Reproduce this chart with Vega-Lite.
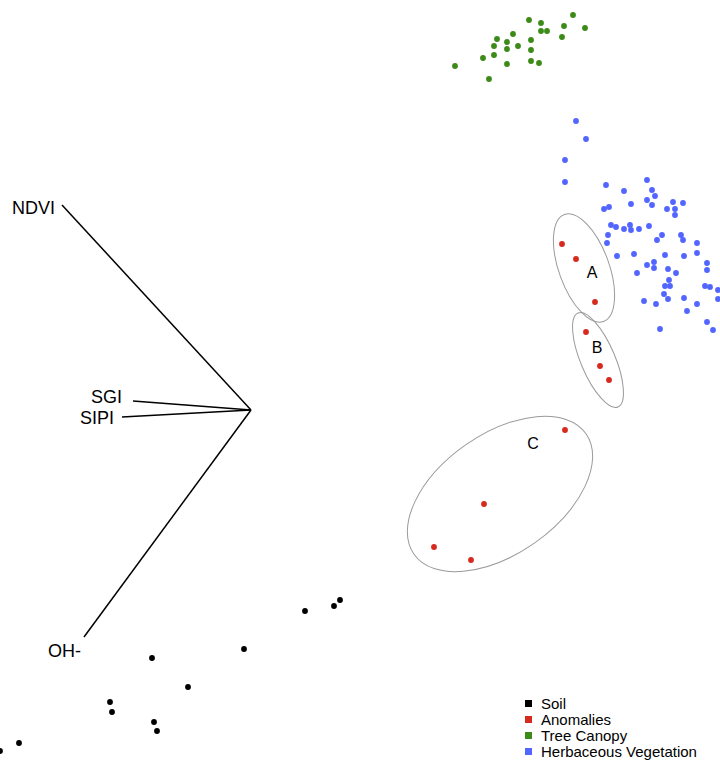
{
  "$schema": "https://vega.github.io/schema/vega-lite/v6.json",
  "width": 720,
  "height": 761,
  "padding": 0,
  "autosize": {"type": "fit", "contains": "padding"},
  "background": "white",
  "config": {"view": {"stroke": null}, "font": "Liberation Sans"},
  "datasets": {
    "points": [
      {"x": 455, "y": 66, "group": "Tree Canopy"},
      {"x": 489, "y": 79, "group": "Tree Canopy"},
      {"x": 483, "y": 58, "group": "Tree Canopy"},
      {"x": 494, "y": 55, "group": "Tree Canopy"},
      {"x": 494, "y": 46, "group": "Tree Canopy"},
      {"x": 497, "y": 39, "group": "Tree Canopy"},
      {"x": 507, "y": 42, "group": "Tree Canopy"},
      {"x": 507, "y": 49, "group": "Tree Canopy"},
      {"x": 507, "y": 64, "group": "Tree Canopy"},
      {"x": 513, "y": 34, "group": "Tree Canopy"},
      {"x": 518, "y": 46, "group": "Tree Canopy"},
      {"x": 529, "y": 20, "group": "Tree Canopy"},
      {"x": 531, "y": 40, "group": "Tree Canopy"},
      {"x": 531, "y": 50, "group": "Tree Canopy"},
      {"x": 531, "y": 61, "group": "Tree Canopy"},
      {"x": 539, "y": 63, "group": "Tree Canopy"},
      {"x": 541, "y": 23, "group": "Tree Canopy"},
      {"x": 541, "y": 31, "group": "Tree Canopy"},
      {"x": 547, "y": 31, "group": "Tree Canopy"},
      {"x": 562, "y": 37, "group": "Tree Canopy"},
      {"x": 564, "y": 26, "group": "Tree Canopy"},
      {"x": 573, "y": 15, "group": "Tree Canopy"},
      {"x": 585, "y": 28, "group": "Tree Canopy"},
      {"x": 576, "y": 121, "group": "Herbaceous Vegetation"},
      {"x": 586, "y": 139, "group": "Herbaceous Vegetation"},
      {"x": 565, "y": 160, "group": "Herbaceous Vegetation"},
      {"x": 565, "y": 182, "group": "Herbaceous Vegetation"},
      {"x": 606, "y": 185, "group": "Herbaceous Vegetation"},
      {"x": 647, "y": 180, "group": "Herbaceous Vegetation"},
      {"x": 624, "y": 191, "group": "Herbaceous Vegetation"},
      {"x": 652, "y": 190, "group": "Herbaceous Vegetation"},
      {"x": 655, "y": 196, "group": "Herbaceous Vegetation"},
      {"x": 647, "y": 200, "group": "Herbaceous Vegetation"},
      {"x": 652, "y": 205, "group": "Herbaceous Vegetation"},
      {"x": 631, "y": 204, "group": "Herbaceous Vegetation"},
      {"x": 604, "y": 209, "group": "Herbaceous Vegetation"},
      {"x": 609, "y": 207, "group": "Herbaceous Vegetation"},
      {"x": 673, "y": 202, "group": "Herbaceous Vegetation"},
      {"x": 683, "y": 203, "group": "Herbaceous Vegetation"},
      {"x": 667, "y": 209, "group": "Herbaceous Vegetation"},
      {"x": 675, "y": 209, "group": "Herbaceous Vegetation"},
      {"x": 675, "y": 215, "group": "Herbaceous Vegetation"},
      {"x": 611, "y": 225, "group": "Herbaceous Vegetation"},
      {"x": 616, "y": 227, "group": "Herbaceous Vegetation"},
      {"x": 624, "y": 229, "group": "Herbaceous Vegetation"},
      {"x": 630, "y": 225, "group": "Herbaceous Vegetation"},
      {"x": 631, "y": 230, "group": "Herbaceous Vegetation"},
      {"x": 639, "y": 229, "group": "Herbaceous Vegetation"},
      {"x": 649, "y": 226, "group": "Herbaceous Vegetation"},
      {"x": 608, "y": 235, "group": "Herbaceous Vegetation"},
      {"x": 607, "y": 243, "group": "Herbaceous Vegetation"},
      {"x": 662, "y": 235, "group": "Herbaceous Vegetation"},
      {"x": 657, "y": 240, "group": "Herbaceous Vegetation"},
      {"x": 681, "y": 235, "group": "Herbaceous Vegetation"},
      {"x": 683, "y": 240, "group": "Herbaceous Vegetation"},
      {"x": 697, "y": 243, "group": "Herbaceous Vegetation"},
      {"x": 697, "y": 253, "group": "Herbaceous Vegetation"},
      {"x": 617, "y": 256, "group": "Herbaceous Vegetation"},
      {"x": 634, "y": 254, "group": "Herbaceous Vegetation"},
      {"x": 665, "y": 255, "group": "Herbaceous Vegetation"},
      {"x": 684, "y": 256, "group": "Herbaceous Vegetation"},
      {"x": 647, "y": 265, "group": "Herbaceous Vegetation"},
      {"x": 654, "y": 262, "group": "Herbaceous Vegetation"},
      {"x": 654, "y": 268, "group": "Herbaceous Vegetation"},
      {"x": 668, "y": 269, "group": "Herbaceous Vegetation"},
      {"x": 707, "y": 263, "group": "Herbaceous Vegetation"},
      {"x": 707, "y": 270, "group": "Herbaceous Vegetation"},
      {"x": 637, "y": 273, "group": "Herbaceous Vegetation"},
      {"x": 676, "y": 273, "group": "Herbaceous Vegetation"},
      {"x": 669, "y": 280, "group": "Herbaceous Vegetation"},
      {"x": 665, "y": 286, "group": "Herbaceous Vegetation"},
      {"x": 670, "y": 286, "group": "Herbaceous Vegetation"},
      {"x": 705, "y": 286, "group": "Herbaceous Vegetation"},
      {"x": 710, "y": 287, "group": "Herbaceous Vegetation"},
      {"x": 718, "y": 290, "group": "Herbaceous Vegetation"},
      {"x": 664, "y": 294, "group": "Herbaceous Vegetation"},
      {"x": 668, "y": 299, "group": "Herbaceous Vegetation"},
      {"x": 684, "y": 298, "group": "Herbaceous Vegetation"},
      {"x": 718, "y": 299, "group": "Herbaceous Vegetation"},
      {"x": 644, "y": 301, "group": "Herbaceous Vegetation"},
      {"x": 656, "y": 304, "group": "Herbaceous Vegetation"},
      {"x": 697, "y": 304, "group": "Herbaceous Vegetation"},
      {"x": 687, "y": 311, "group": "Herbaceous Vegetation"},
      {"x": 707, "y": 322, "group": "Herbaceous Vegetation"},
      {"x": 713, "y": 330, "group": "Herbaceous Vegetation"},
      {"x": 660, "y": 329, "group": "Herbaceous Vegetation"},
      {"x": 562, "y": 244, "group": "Anomalies"},
      {"x": 576, "y": 259, "group": "Anomalies"},
      {"x": 595, "y": 302, "group": "Anomalies"},
      {"x": 586, "y": 332, "group": "Anomalies"},
      {"x": 600, "y": 366, "group": "Anomalies"},
      {"x": 609, "y": 380, "group": "Anomalies"},
      {"x": 565, "y": 430, "group": "Anomalies"},
      {"x": 484, "y": 504, "group": "Anomalies"},
      {"x": 434, "y": 547, "group": "Anomalies"},
      {"x": 471, "y": 560, "group": "Anomalies"},
      {"x": 0, "y": 751, "group": "Soil"},
      {"x": 19, "y": 743, "group": "Soil"},
      {"x": 110, "y": 702, "group": "Soil"},
      {"x": 112, "y": 712, "group": "Soil"},
      {"x": 152, "y": 658, "group": "Soil"},
      {"x": 154, "y": 722, "group": "Soil"},
      {"x": 157, "y": 731, "group": "Soil"},
      {"x": 188, "y": 687, "group": "Soil"},
      {"x": 244, "y": 649, "group": "Soil"},
      {"x": 305, "y": 611, "group": "Soil"},
      {"x": 334, "y": 606, "group": "Soil"},
      {"x": 340, "y": 600, "group": "Soil"}
    ],
    "vectors": [
      {"label": "NDVI", "x": 251, "y": 410, "x2": 62, "y2": 205, "lx": 55, "ly": 209},
      {"label": "SGI", "x": 251, "y": 410, "x2": 133, "y2": 401, "lx": 122, "ly": 398},
      {"label": "SIPI", "x": 251, "y": 410, "x2": 122, "y2": 417, "lx": 114, "ly": 419},
      {"label": "OH-", "x": 251, "y": 410, "x2": 84, "y2": 637, "lx": 81, "ly": 652}
    ],
    "clusters": [
      {"cluster": "A", "cx": 584, "cy": 268, "lx": 592, "ly": 273},
      {"cluster": "B", "cx": 598, "cy": 360, "lx": 597, "ly": 348},
      {"cluster": "C", "cx": 500, "cy": 494, "lx": 533, "ly": 444}
    ]
  },
  "layer": [
    {
      "data": {"name": "vectors"},
      "mark": {"type": "rule", "color": "black", "strokeWidth": 1.5},
      "encoding": {
        "x": {"field": "x", "type": "quantitative", "axis": null, "scale": {"domain": [0, 720], "nice": false, "zero": false}},
        "y": {"field": "y", "type": "quantitative", "axis": null, "scale": {"domain": [0, 761], "nice": false, "zero": false, "reverse": true}},
        "x2": {"field": "x2"},
        "y2": {"field": "y2"}
      }
    },
    {
      "data": {"name": "vectors"},
      "mark": {"type": "text", "align": "right", "baseline": "middle", "fontSize": 18, "color": "black"},
      "encoding": {
        "x": {"field": "lx", "type": "quantitative"},
        "y": {"field": "ly", "type": "quantitative"},
        "text": {"field": "label"}
      }
    },
    {
      "data": {"name": "clusters"},
      "transform": [{"filter": "datum.cluster == 'A'"}],
      "mark": {"type": "point", "filled": false, "stroke": "#9a9a9a", "strokeWidth": 1, "opacity": 1, "size": 12996, "angle": -20,
        "shape": "M0,-1C0.243,-1 0.44,-0.5523 0.44,0C0.44,0.5523 0.243,1 0,1C-0.243,1 -0.44,0.5523 -0.44,0C-0.44,-0.5523 -0.243,-1 0,-1Z"},
      "encoding": {
        "x": {"field": "cx", "type": "quantitative"},
        "y": {"field": "cy", "type": "quantitative"}
      }
    },
    {
      "data": {"name": "clusters"},
      "transform": [{"filter": "datum.cluster == 'B'"}],
      "mark": {"type": "point", "filled": false, "stroke": "#9a9a9a", "strokeWidth": 1, "opacity": 1, "size": 10404, "angle": -23,
        "shape": "M0,-1C0.186,-1 0.337,-0.5523 0.337,0C0.337,0.5523 0.186,1 0,1C-0.186,1 -0.337,0.5523 -0.337,0C-0.337,-0.5523 -0.186,-1 0,-1Z"},
      "encoding": {
        "x": {"field": "cx", "type": "quantitative"},
        "y": {"field": "cy", "type": "quantitative"}
      }
    },
    {
      "data": {"name": "clusters"},
      "transform": [{"filter": "datum.cluster == 'C'"}],
      "mark": {"type": "point", "filled": false, "stroke": "#9a9a9a", "strokeWidth": 1, "opacity": 1, "size": 44100, "angle": -35,
        "shape": "M-1,0C-1,-0.315 -0.5523,-0.571 0,-0.571C0.5523,-0.571 1,-0.315 1,0C1,0.315 0.5523,0.571 0,0.571C-0.5523,0.571 -1,0.315 -1,0Z"},
      "encoding": {
        "x": {"field": "cx", "type": "quantitative"},
        "y": {"field": "cy", "type": "quantitative"}
      }
    },
    {
      "data": {"name": "clusters"},
      "mark": {"type": "text", "align": "center", "baseline": "middle", "fontSize": 16, "color": "black"},
      "encoding": {
        "x": {"field": "lx", "type": "quantitative"},
        "y": {"field": "ly", "type": "quantitative"},
        "text": {"field": "cluster"}
      }
    },
    {
      "data": {"name": "points"},
      "mark": {"type": "circle", "size": 34, "opacity": 1, "clip": true},
      "encoding": {
        "x": {"field": "x", "type": "quantitative"},
        "y": {"field": "y", "type": "quantitative"},
        "color": {
          "field": "group", "type": "nominal",
          "scale": {"domain": ["Soil", "Anomalies", "Tree Canopy", "Herbaceous Vegetation"], "range": ["#000000", "#d62a1e", "#3c8a18", "#5266ff"]},
          "legend": {"orient": "none", "legendX": 521, "legendY": 696, "title": null, "symbolType": "square", "symbolSize": 49, "symbolStrokeWidth": 0, "symbolOpacity": 1, "labelFontSize": 15, "labelFont": "Liberation Sans", "labelColor": "black", "labelOffset": 5, "rowPadding": 0, "padding": 0}
        }
      }
    }
  ]
}
